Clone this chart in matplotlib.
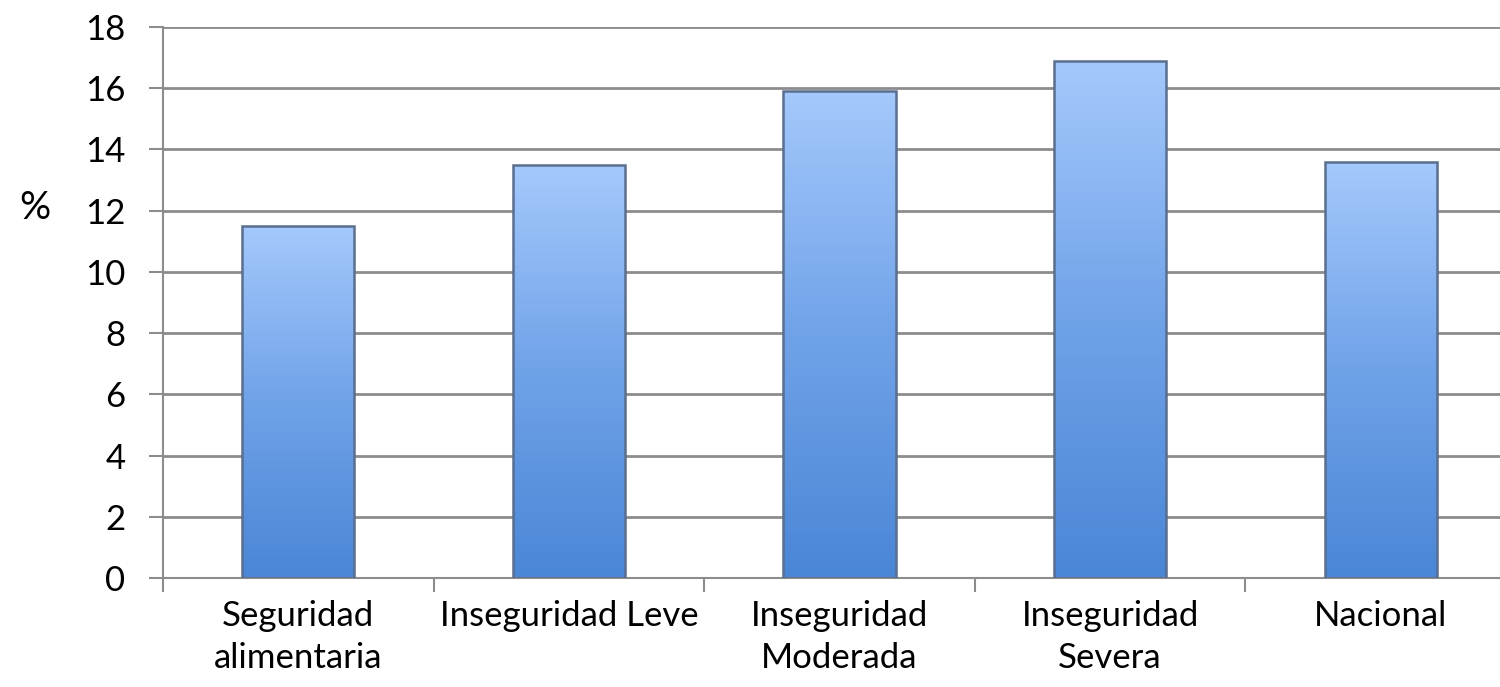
import matplotlib
matplotlib.use("Agg")
import matplotlib.pyplot as plt
import numpy as np
from matplotlib.colors import LinearSegmentedColormap

categories = ["Seguridad\nalimentaria", "Inseguridad Leve", "Inseguridad\nModerada",
              "Inseguridad\nSevera", "Nacional"]
values = [11.5, 13.5, 15.9, 16.9, 13.6]
yticks = [0, 2, 4, 6, 8, 10, 12, 14, 16, 18]

plt.rcParams['font.family'] = ['Lato', 'DejaVu Sans']

W, H = 1500, 687
fig = plt.figure(figsize=(15, 6.87), dpi=100)
left, right, top, bottom = 163, 1516, 27, 578
ax = fig.add_axes([left / W, 1 - bottom / H, (right - left) / W, (bottom - top) / H])

x = np.arange(len(categories))
bars = ax.bar(x, values, width=0.415, color='none', edgecolor='#5a6e8e', linewidth=1.8, zorder=3)

cmap = LinearSegmentedColormap.from_list('g', ['#4a86d6', '#70a2e8', '#a4c9fc'])
grad = np.linspace(0, 1, 256).reshape(-1, 1)
for b in bars:
    bx, by = b.get_x(), b.get_y()
    bw, bh = b.get_width(), b.get_height()
    im = ax.imshow(grad, cmap=cmap, aspect='auto', origin='lower',
                   extent=[bx, bx + bw, by, by + bh], zorder=2)
    im.set_clip_path(b)

ax.set_xlim(-0.5, len(categories) - 0.5)
ax.set_ylim(0, 18)
ax.set_yticks(yticks)
ax.yaxis.grid(True, color='#8c8c8c', linewidth=2, zorder=1)
ax.set_axisbelow(True)

ax.set_xticks(np.arange(len(categories) + 1) - 0.5, minor=False)
ax.set_xticklabels([])
ax.set_xticks(x, minor=True)
ax.set_xticklabels(categories, minor=True, fontsize=25, linespacing=1.38)
ax.tick_params(axis='x', which='minor', length=0, pad=16)
ax.tick_params(axis='x', which='major', length=10, width=1.5, color='#8c8c8c')
ax.tick_params(axis='y', length=10, width=1.5, color='#8c8c8c', labelsize=25, pad=17)

for s in ['top', 'right']:
    ax.spines[s].set_visible(False)
for s in ['left', 'bottom']:
    ax.spines[s].set_color('#8c8c8c')
    ax.spines[s].set_linewidth(1.5)

fig.text(35 / W, 1 - 208 / H, '%', fontsize=28, ha='center', va='center')

fig.savefig('out.png', dpi=100)
